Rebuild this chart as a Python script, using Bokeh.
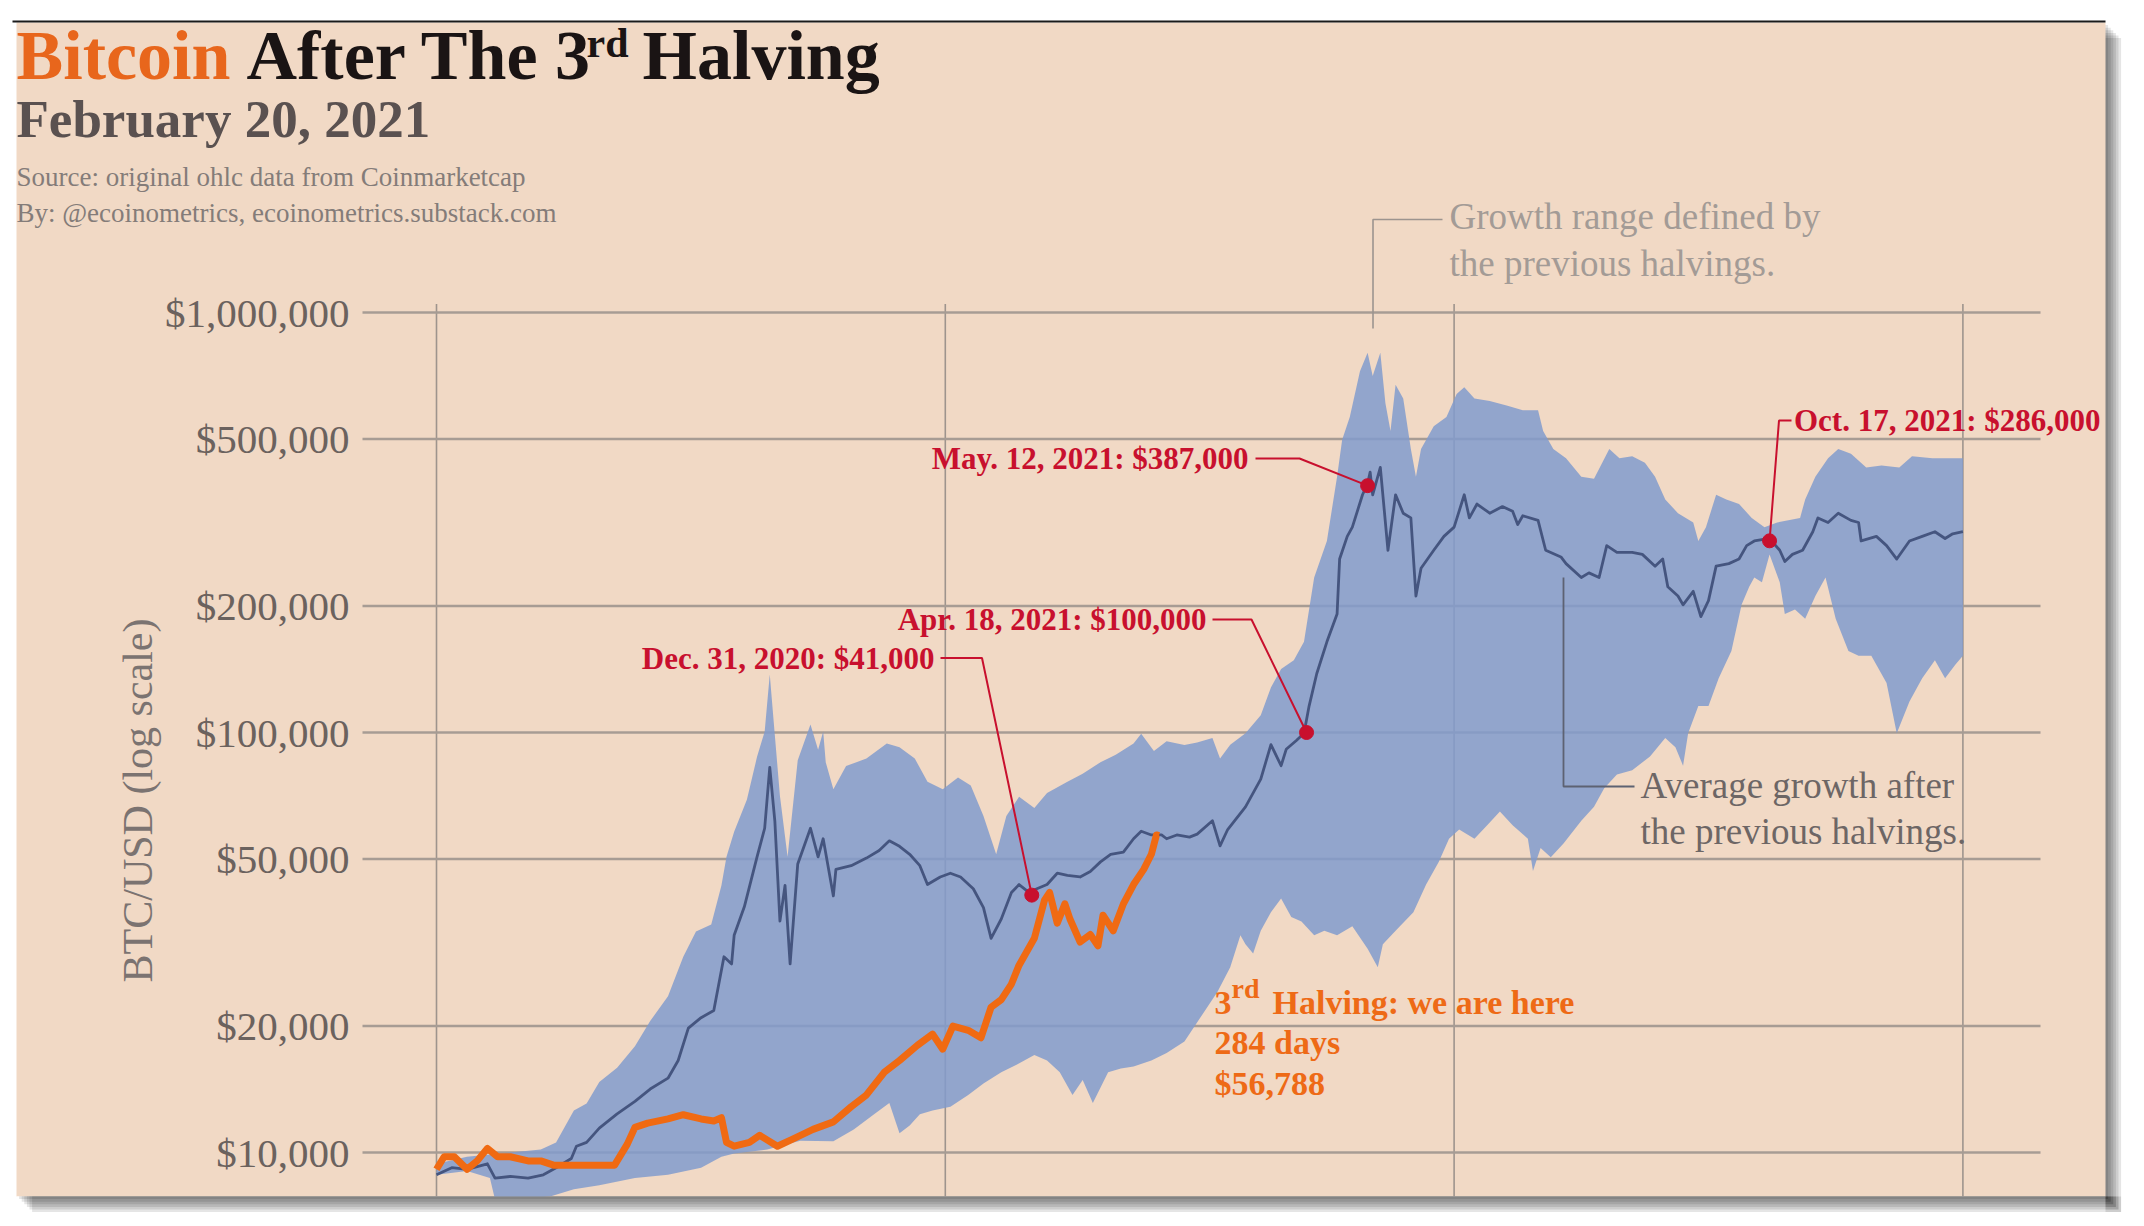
import math
from bokeh.plotting import figure
from bokeh.models import Range1d, Label
from bokeh.core.properties import value
from bokeh.embed import file_html
from bokeh.resources import INLINE

# ---------------- data (days since the 3rd halving, BTC/USD) ----------------
orange_days = [0, 3, 7, 12, 16, 20, 24, 29, 36, 41,
               46, 54, 62, 70, 75, 78, 83, 91, 97, 104,
               109, 112, 114, 117, 123, 127, 134, 140, 148, 156,
               163, 169, 176, 182, 189, 195, 199, 203, 209, 214,
               218, 222, 226, 229, 235, 239, 241, 244, 247, 249,
               253, 257, 260, 262, 266, 270, 274, 278, 281, 283,
               284]
orange_vals = [9120, 9770, 9770, 9120, 9550, 10230, 9770, 9770, 9550, 9550,
               9330, 9330, 9330, 9330, 10470, 11480, 11750, 12020, 12300, 12020,
               11890, 12100, 10570, 10350, 10570, 10990, 10350, 10760, 11350, 11830,
               12850, 13710, 15520, 16560, 17990, 19140, 17620, 20000, 19540, 18750,
               22180, 23120, 25180, 27930, 32360, 39900, 41590, 35160, 39080, 35970,
               31700, 33040, 31050, 36730, 33730, 39080, 43450, 47210, 51290, 57020,
               56788]

avg_days = [0, 6, 12, 20, 23, 29, 36, 42, 47, 53,
            55, 59, 64, 71, 78, 84, 91, 95, 99, 104,
            109, 113, 116, 117, 121, 126, 129, 131, 133, 135,
            137, 139, 142, 147, 150, 152, 156, 157, 163, 169,
            174, 178, 182, 186, 190, 193, 198, 202, 206, 211,
            215, 218, 222, 226, 229, 233, 236, 240, 244, 248,
            253, 257, 261, 265, 270, 274, 277, 281, 285, 287,
            291, 296, 299, 305, 308, 311, 318, 324, 328, 332,
            334, 338, 341, 343, 346, 350, 354, 355, 358, 360,
            364, 366, 367, 368, 371, 374, 377, 380, 383, 385,
            387, 392, 396, 400, 404, 406, 409, 414, 419, 423,
            425, 427, 433, 436, 442, 444, 450, 453, 457, 460,
            464, 470, 474, 479, 482, 484, 488, 490, 494, 497,
            500, 503, 508, 512, 515, 518, 524, 528, 530, 533,
            537, 541, 543, 547, 551, 556, 559, 560, 566, 570,
            574, 579, 584, 589, 593, 596, 600]
avg_vals = [8850, 9200, 9120, 9400, 8690, 8770, 8690, 8850, 9200, 9680,
            10350, 10570, 11430, 12360, 13240, 14160, 15030, 16560, 19770, 20940,
            21780, 29240, 28120, 32890, 38460, 50580, 59160, 82600, 61520, 35560,
            43250, 28120, 48640, 59160, 50580, 55850, 40830, 47210, 48190, 50230,
            52360, 55210, 53580, 51290, 48190, 43450, 45290, 46240, 45290, 42460,
            38280, 32360, 35970, 41590, 43450, 41590, 42460, 43450, 46240, 45710,
            45290, 46670, 49200, 51290, 51880, 55850, 58210, 57020, 57020, 55850,
            57020, 56360, 57280, 61660, 53700, 58750, 66530, 77450, 93540, 83370,
            91200, 95720, 99540, 115600, 138000, 164400, 191400, 258800, 293100, 308300,
            368100, 391700, 416900, 368100, 427600, 271600, 368100, 332700, 324300, 211300,
            246000, 271600, 293100, 308300, 368100, 324300, 349900, 332700, 345100, 336500,
            312600, 328100, 319900, 271600, 261800, 252400, 233900, 239900, 233900, 278600,
            268500, 268500, 265500, 248900, 258800, 222300, 211300, 201400, 216800, 188800,
            206100, 248900, 252400, 258800, 278600, 285800, 289700, 271600, 255300, 265500,
            271600, 300600, 324300, 316200, 332700, 319900, 316200, 285800, 293100, 278600,
            258800, 285800, 293100, 300600, 289700, 297200, 300600]

band_hi_days = [0, 12, 25, 41, 47, 54, 59, 64, 71, 78,
                84, 91, 97, 102, 108, 112, 114, 117, 122, 126,
                129, 131, 133, 135, 138, 142, 147, 150, 152, 153,
                156, 161, 169, 177, 182, 188, 193, 199, 205, 210,
                215, 220, 224, 229, 235, 240, 248, 254, 261, 267,
                274, 277, 282, 287, 294, 299, 305, 308, 312, 318,
                324, 328, 332, 337, 341, 345, 350, 354, 356, 359,
                363, 366, 368, 371, 373, 375, 377, 380, 383, 385,
                387, 392, 397, 401, 404, 408, 414, 421, 427, 433,
                435, 439, 444, 450, 455, 461, 465, 470, 475, 479,
                483, 488, 494, 496, 499, 503, 507, 512, 517, 522,
                527, 536, 538, 542, 547, 551, 556, 562, 568, 575,
                580, 588, 594, 600]
band_hi_vals = [9400, 9770, 9950, 10160, 10570, 12590, 13090, 14720, 15920, 17910,
                20560, 23550, 29240, 33570, 34910, 43250, 50580, 58070, 69180, 87500,
                100500, 137400, 98400, 70630, 50580, 85900, 104500, 91000, 100500, 84920,
                73280, 83180, 86700, 94190, 92260, 86700, 76380, 73280, 78160, 74820,
                63240, 51290, 63240, 70310, 66070, 71780, 76380, 79800, 84920, 88510,
                94190, 99300, 90360, 95280, 93330, 94620, 97050, 86700, 93540, 99540,
                109900, 127900, 141600, 148600, 164400, 233900, 285800, 406400, 497700, 563600,
                724400, 801700, 706300, 801700, 608100, 522400, 673000, 623700, 473200, 406400,
                473200, 535800, 563600, 639700, 663700, 623700, 615200, 599800, 584800, 584800,
                522400, 473200, 449800, 406400, 401800, 473200, 449800, 455000, 438500, 406400,
                358900, 332700, 316200, 285800, 308300, 368100, 358900, 349900, 324300, 308300,
                316200, 324300, 358900, 406400, 449800, 473200, 461300, 427600, 432500, 427600,
                455000, 449800, 449800, 449800]

band_lo_days = [0, 12, 21, 23, 32, 45, 54, 64, 78, 91,
                104, 112, 117, 130, 143, 156, 164, 172, 178, 182,
                186, 190, 195, 202, 209, 215, 222, 228, 235, 240,
                245, 250, 254, 258, 264, 269, 274, 281, 287, 294,
                300, 307, 312, 316, 318, 321, 324, 328, 332, 336,
                340, 345, 349, 354, 360, 366, 370, 372, 377, 384,
                389, 394, 398, 402, 408, 413, 418, 423, 429, 431,
                434, 438, 443, 450, 455, 459, 464, 470, 477, 483,
                487, 490, 492, 496, 500, 504, 509, 513, 516, 518,
                521, 524, 528, 530, 534, 538, 542, 546, 550, 555,
                559, 564, 570, 574, 579, 584, 589, 593, 597, 600]
band_lo_vals = [8850, 9040, 8690, 7730, 7730, 7870, 8180, 8360, 8690, 8850,
                9200, 9770, 9950, 10160, 10670, 10640, 11350, 12330, 13120, 11120,
                11590, 12330, 12590, 12850, 13710, 14590, 15520, 16180, 17060, 16560,
                15520, 13710, 14890, 13120, 15520, 15850, 16030, 16560, 17260, 18370,
                20840, 24150, 27610, 32890, 31330, 29790, 33730, 37330, 40270, 36390,
                35480, 32890, 33730, 32890, 34590, 30550, 27610, 31330, 33730, 37330,
                43450, 49200, 55850, 58750, 55850, 60120, 64860, 60120, 55850, 46770,
                53090, 50470, 54450, 61660, 66530, 73620, 79430, 81280, 87700, 97050,
                92260, 83370, 99540, 115600, 115600, 134600, 156300, 201400, 222300, 233900,
                228000, 265500, 228000, 191400, 196300, 186600, 211300, 233900, 186600, 156300,
                152400, 152400, 131200, 99540, 118600, 134600, 148600, 134600, 144900, 152400]

event_days = [234, 342, 366, 524]
event_vals = [41000, 100000, 387000, 286000]
event_text = ["Dec. 31, 2020: $41,000", "Apr. 18, 2021: $100,000",
              "May. 12, 2021: $387,000", "Oct. 17, 2021: $286,000"]

y_ticks = [10000, 20000, 50000, 100000, 200000, 500000, 1000000]
y_tick_labels = ["$10,000", "$20,000", "$50,000", "$100,000",
                 "$200,000", "$500,000", "$1,000,000"]
x_grid_days = [0, 200, 400, 600]

# ---------------- styles ----------------
PEACH = "#F1D9C5"
BAND = "#819BCD"
AVG = "#45557F"
ORANGE = "#F06A12"
RED = "#C8102E"
GRID = "#A79C94"
FONT = "Liberation Serif"

# ---------------- layout (page pixels) ----------------
FIG_X0, FIG_Y0 = 0, 0              # the bokeh page template has no body margin
FIG_W, FIG_H = 2136, 1218
PANEL_L, PANEL_R, PANEL_T, PANEL_B = 16, 2105, 22, 1196   # peach panel
PLOT_L, PLOT_R = 362, 2040
DAY0_X, PX_PER_DAY = 436.0, 2.544
Y_1M, PX_PER_DECADE = 312.0, 420.0


def px_day(xo):
    return (xo - DAY0_X) / PX_PER_DAY


def px_val(yo):
    return 10 ** (6 - (yo - Y_1M) / PX_PER_DECADE)


p = figure(width=FIG_W, height=FIG_H,
           x_range=Range1d(px_day(FIG_X0), px_day(FIG_X0 + FIG_W)),
           y_range=Range1d(px_val(FIG_Y0 + FIG_H), px_val(FIG_Y0)),
           y_axis_type="log", x_axis_location=None, y_axis_location=None,
           toolbar_location=None, output_backend="svg", title=None,
           min_border=0)
p.background_fill_color = "white"
p.border_fill_color = "white"
p.outline_line_color = None
p.xgrid.visible = False
p.ygrid.visible = False

# drop shadow of the panel (stacked translucent offsets)
for k in range(1, 7):
    off = 2.6 * k
    p.quad(left=[px_day(PANEL_L + off)], right=[px_day(PANEL_R + off)],
           top=[px_val(PANEL_T + off)], bottom=[px_val(PANEL_B + off)],
           fill_color="black", fill_alpha=0.10, line_color=None)

# peach panel
p.quad(left=[px_day(PANEL_L)], right=[px_day(PANEL_R)],
       top=[px_val(PANEL_T)], bottom=[px_val(PANEL_B)],
       fill_color=PEACH, line_color=None)

# thin dark rule along the top edge
p.segment(x0=[px_day(PANEL_L - 4)], y0=[px_val(PANEL_T - 1)],
          x1=[px_day(PANEL_R)], y1=[px_val(PANEL_T - 1)],
          line_color="#1B1B1B", line_width=2)

# vertical grid lines (start just above the $1M line)
p.segment(x0=x_grid_days, y0=[px_val(PANEL_B)] * len(x_grid_days),
          x1=x_grid_days, y1=[px_val(303.5)] * len(x_grid_days),
          line_color="#9E948D", line_width=1.6)

# horizontal grid lines at the y ticks
p.segment(x0=[px_day(PLOT_L)] * len(y_ticks), y0=y_ticks,
          x1=[px_day(PLOT_R)] * len(y_ticks), y1=y_ticks,
          line_color=GRID, line_width=2.5)

# tick labels and axis title
p.text(x=[px_day(349)] * len(y_ticks), y=y_ticks, text=y_tick_labels,
       text_font=value(FONT), text_font_size=value("41px"), text_color="#6B625E",
       text_align="right", text_baseline="middle")
p.text(x=[px_day(137)], y=[px_val(800)], text=["BTC/USD (log scale)"],
       angle=math.pi / 2, text_font=value(FONT), text_font_size=value("42px"),
       text_color="#7B7371", text_align="center", text_baseline="middle")

# growth range band
band_x = band_hi_days + band_lo_days[::-1]
band_y = band_hi_vals + band_lo_vals[::-1]
p.patch(band_x, band_y, fill_color=BAND, fill_alpha=0.85, line_color=None)
# cover anything below the panel edge with the page colour and shadow
p.quad(left=[px_day(PANEL_L)], right=[px_day(PANEL_R)],
       top=[px_val(PANEL_B)], bottom=[px_val(FIG_Y0 + FIG_H + 50)],
       fill_color="white", line_color=None)
for k in range(1, 7):
    off = 2.6 * k
    p.quad(left=[px_day(PANEL_L + off)], right=[px_day(PANEL_R + off)],
           top=[px_val(PANEL_B)], bottom=[px_val(PANEL_B + off)],
           fill_color="black", fill_alpha=0.10, line_color=None)

# average growth line
p.line(avg_days, avg_vals, line_color=AVG, line_width=2.8, line_join="round")

# current halving
p.line(orange_days, orange_vals, line_color=ORANGE, line_width=7, line_join="round")

# leader lines
p.line([px_day(1372.5), px_day(1372.5), px_day(1442)],
       [px_val(328), px_val(219), px_val(219)], line_color="#9C948F", line_width=1.6)
p.line([443, 443, px_day(1634)], [px_val(577), px_val(786), px_val(786)],
       line_color="#5D6272", line_width=1.8)

leaders = [  # (label end x, knee x, y) in page px
    (940, 981.5, 657.5),
    (1212, 1251, 619),
    (1255, 1299, 458),
    (1791, 1778.5, 420),
]
for (x_a, x_k, y_l), d, v in zip(leaders, event_days, event_vals):
    p.line([px_day(x_a), px_day(x_k), d], [px_val(y_l), px_val(y_l), v],
           line_color=RED, line_width=2)

p.scatter(event_days, event_vals, size=14, fill_color=RED, line_color=RED)


def lab(text, xo, yo, size, color, bold=False, align="left"):
    p.add_layout(Label(x=px_day(xo), y=px_val(yo), text=text,
                       text_font=FONT, text_font_size=f"{size}px",
                       text_font_style="bold" if bold else "normal",
                       text_color=color, text_align=align, text_baseline="middle"))


# title block
lab("Bitcoin", 16, 55, 70, "#E8661C", bold=True)
lab("After The 3", 246, 55, 70, "#1A1414", bold=True)
lab("rd", 586, 42, 42, "#1A1414", bold=True)
lab("Halving", 642, 55, 70, "#1A1414", bold=True)
lab("February 20, 2021", 16, 118, 53, "#5A5150", bold=True)
lab("Source: original ohlc data from Coinmarketcap", 16, 176, 27, "#847C79")
lab("By: @ecoinometrics, ecoinometrics.substack.com", 16, 212, 27, "#847C79")

# annotations
lab("Growth range defined by", 1449, 216, 37, "#A39B96")
lab("the previous halvings.", 1449, 262.5, 37, "#A39B96")
lab("Average growth after", 1640, 785, 37, "#6D6665")
lab("the previous halvings.", 1640, 831, 37, "#6D6665")

event_label_pos = [(934, 657.5, "right"), (1206, 619, "right"),
                   (1248, 458, "right"), (1793.5, 420, "left")]
for t, (xo, yo, al) in zip(event_text, event_label_pos):
    lab(t, xo, yo, 31, RED, bold=True, align=al)

lab("3", 1214, 1002, 34, "#EE6A16", bold=True)
lab("rd", 1231, 988, 28, "#EE6A16", bold=True)
lab("Halving: we are here", 1272, 1002, 34, "#EE6A16", bold=True)
lab("284 days", 1214, 1042, 34, "#EE6A16", bold=True)
lab("$56,788", 1214, 1083, 34, "#EE6A16", bold=True)

open("out.html", "w").write(file_html(p, INLINE, title="Bitcoin After The 3rd Halving"))
